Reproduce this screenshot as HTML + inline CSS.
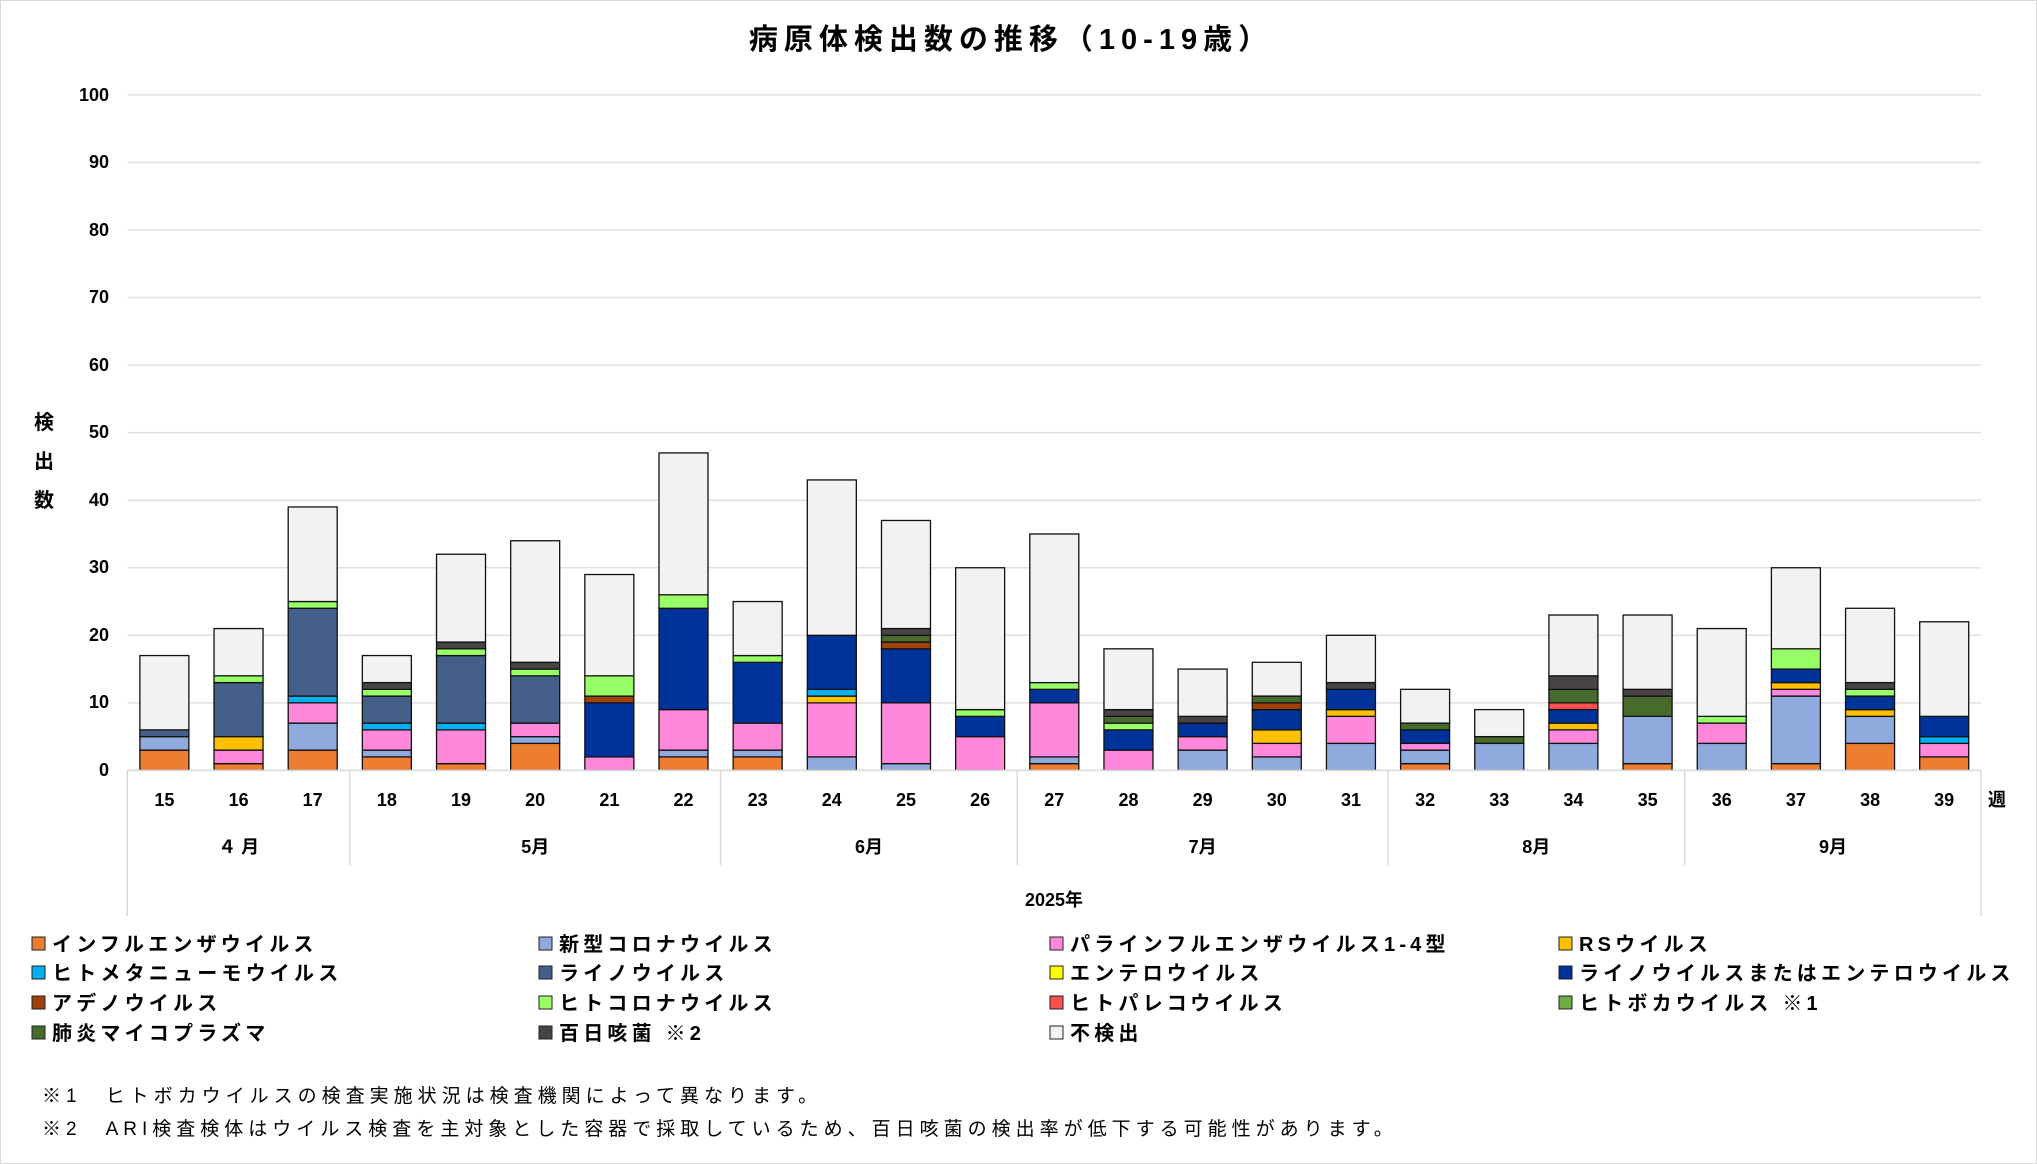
<!DOCTYPE html>
<html><head><meta charset="utf-8"><style>
html,body{margin:0;padding:0;background:#fff}
svg{display:block}
text{font-family:"Liberation Sans","Noto Sans CJK JP",sans-serif}
.b{font-weight:bold}
</style></head><body>
<svg id="s" width="2037" height="1164" viewBox="0 0 2037 1164" xmlns="http://www.w3.org/2000/svg">
<rect x="0.5" y="0.5" width="2036" height="1163" fill="#fff" stroke="#d9d9d9"/>
<text x="1011" y="49" font-size="29" class="b" text-anchor="middle" fill="#000" letter-spacing="6">病原体検出数の推移（10-19歳）</text>
<g id="grid" stroke="#e0e0e0" stroke-width="1.5"></g>
<g font-size="18" class="b" text-anchor="end" fill="#000">
<text x="109" y="776">0</text><text x="109" y="708">10</text><text x="109" y="641">20</text><text x="109" y="573">30</text><text x="109" y="506">40</text><text x="109" y="438">50</text><text x="109" y="371">60</text><text x="109" y="303">70</text><text x="109" y="236">80</text><text x="109" y="168">90</text><text x="109" y="101">100</text>
</g>
<g font-size="20" class="b" text-anchor="middle" fill="#000">
<text x="44" y="429">検</text><text x="44" y="468">出</text><text x="44" y="507">数</text>
</g>
<g id="bars"></g>
<g id="axis" stroke="#d9d9d9" stroke-width="1.5"></g>
<g font-size="18" class="b" text-anchor="middle" fill="#000">
<text x="164.4" y="806">15</text><text x="238.6" y="806">16</text><text x="312.7" y="806">17</text><text x="386.9" y="806">18</text><text x="461.0" y="806">19</text><text x="535.2" y="806">20</text><text x="609.4" y="806">21</text><text x="683.5" y="806">22</text><text x="757.7" y="806">23</text><text x="831.8" y="806">24</text><text x="906.0" y="806">25</text><text x="980.2" y="806">26</text><text x="1054.3" y="806">27</text><text x="1128.5" y="806">28</text><text x="1202.6" y="806">29</text><text x="1276.8" y="806">30</text><text x="1351.0" y="806">31</text><text x="1425.1" y="806">32</text><text x="1499.3" y="806">33</text><text x="1573.4" y="806">34</text><text x="1647.6" y="806">35</text><text x="1721.8" y="806">36</text><text x="1795.9" y="806">37</text><text x="1870.1" y="806">38</text><text x="1944.2" y="806">39</text>
<text x="1997" y="806">週</text>
<text x="238.6" y="853">４ 月</text><text x="535.2" y="853">5月</text><text x="869" y="853">6月</text><text x="1202.6" y="853">7月</text><text x="1536.2" y="853">8月</text><text x="1833" y="853">9月</text>
<text x="1054" y="906">2025年</text>
</g>
<g id="legend" font-size="20" class="b" fill="#000" letter-spacing="4.2"></g>
<g font-size="19" fill="#000" letter-spacing="5">
<text x="42" y="1102">※1　ヒトボカウイルスの検査実施状況は検査機関によって異なります。</text>
<text x="42" y="1135">※2　ARI検査検体はウイルス検査を主対象とした容器で採取しているため、百日咳菌の検出率が低下する可能性があります。</text>
</g>
</svg>
<script>
const NS="http://www.w3.org/2000/svg";
function el(p,t,a){const e=document.createElementNS(NS,t);for(const k in a)e.setAttribute(k,a[k]);p.appendChild(e);return e;}
const y0=770.4,u=6.755,x0=127.3,cw=74.16,bw=49;
const g=document.getElementById('grid');
for(let v=10;v<=100;v+=10){el(g,'line',{x1:x0,x2:1981,y1:y0-v*u,y2:y0-v*u});}
const C={f:'#ED7D31',c:'#8FAADC',p:'#FF88DD',r:'#FFC000',h:'#00B0F0',ri:'#44608A',e:'#FFFF00',n:'#003399',a:'#A0400A',g:'#99FF66',pr:'#FF5050',b:'#70AD47',m:'#466B2C',pt:'#484444',u:'#F2F2F2'};
const D=[
[['f',3],['c',2],['ri',1],['u',11]],
[['f',1],['p',2],['r',2],['ri',8],['g',1],['u',7]],
[['f',3],['c',4],['p',3],['h',1],['ri',13],['g',1],['u',14]],
[['f',2],['c',1],['p',3],['h',1],['ri',4],['g',1],['pt',1],['u',4]],
[['f',1],['p',5],['h',1],['ri',10],['g',1],['pt',1],['u',13]],
[['f',4],['c',1],['p',2],['ri',7],['g',1],['pt',1],['u',18]],
[['p',2],['n',8],['a',1],['g',3],['u',15]],
[['f',2],['c',1],['p',6],['n',15],['g',2],['u',21]],
[['f',2],['c',1],['p',4],['n',9],['g',1],['u',8]],
[['c',2],['p',8],['r',1],['h',1],['n',8],['u',23]],
[['c',1],['p',9],['n',8],['a',1],['m',1],['pt',1],['u',16]],
[['p',5],['n',3],['g',1],['u',21]],
[['f',1],['c',1],['p',8],['n',2],['g',1],['u',22]],
[['p',3],['n',3],['g',1],['m',1],['pt',1],['u',9]],
[['c',3],['p',2],['n',2],['pt',1],['u',7]],
[['c',2],['p',2],['r',2],['n',3],['a',1],['m',1],['u',5]],
[['c',4],['p',4],['r',1],['n',3],['pt',1],['u',7]],
[['f',1],['c',2],['p',1],['n',2],['m',1],['u',5]],
[['c',4],['m',1],['u',4]],
[['c',4],['p',2],['r',1],['n',2],['pr',1],['m',2],['pt',2],['u',9]],
[['f',1],['c',7],['m',3],['pt',1],['u',11]],
[['c',4],['p',3],['g',1],['u',13]],
[['f',1],['c',10],['p',1],['r',1],['n',2],['g',3],['u',12]],
[['f',4],['c',4],['r',1],['n',2],['g',1],['pt',1],['u',11]],
[['f',2],['p',2],['h',1],['n',3],['u',14]]
];
const B=document.getElementById('bars');
D.forEach((s,i)=>{const cx=x0+cw*(i+0.5);let acc=0;s.forEach(([k,v])=>{const yt=y0-(acc+v)*u;el(B,'rect',{x:cx-bw/2,y:yt,width:bw,height:v*u,fill:C[k],stroke:'#111','stroke-width':1.3});acc+=v;});});
const A=document.getElementById('axis');
el(A,'line',{x1:x0,x2:1981,y1:y0,y2:y0});
el(A,'line',{x1:x0,x2:x0,y1:y0,y2:916});el(A,'line',{x1:1981,x2:1981,y1:y0,y2:916});
[3,8,12,17,21].forEach(k=>{const x=x0+cw*k;el(A,'line',{x1:x,x2:x,y1:y0,y2:865});});
const L=[['f','インフルエンザウイルス'],['c','新型コロナウイルス'],['p','パラインフルエンザウイルス1-4型'],['r','RSウイルス'],
['h','ヒトメタニューモウイルス'],['ri','ライノウイルス'],['e','エンテロウイルス'],['n','ライノウイルスまたはエンテロウイルス'],
['a','アデノウイルス'],['g','ヒトコロナウイルス'],['pr','ヒトパレコウイルス'],['b','ヒトボカウイルス ※1'],
['m','肺炎マイコプラズマ'],['pt','百日咳菌 ※2'],['u','不検出']];
const LG=document.getElementById('legend');const cx=[32,539,1050,1559],cy=[944,973,1003,1033];
L.forEach(([k,t],i)=>{const x=cx[i%4],y=cy[Math.floor(i/4)];el(LG,'rect',{x:x,y:y-7,width:13,height:13,fill:C[k],stroke:'#222','stroke-width':1});const tx=el(LG,'text',{x:x+20,y:y+7});tx.textContent=t;});
</script>
</body></html>
